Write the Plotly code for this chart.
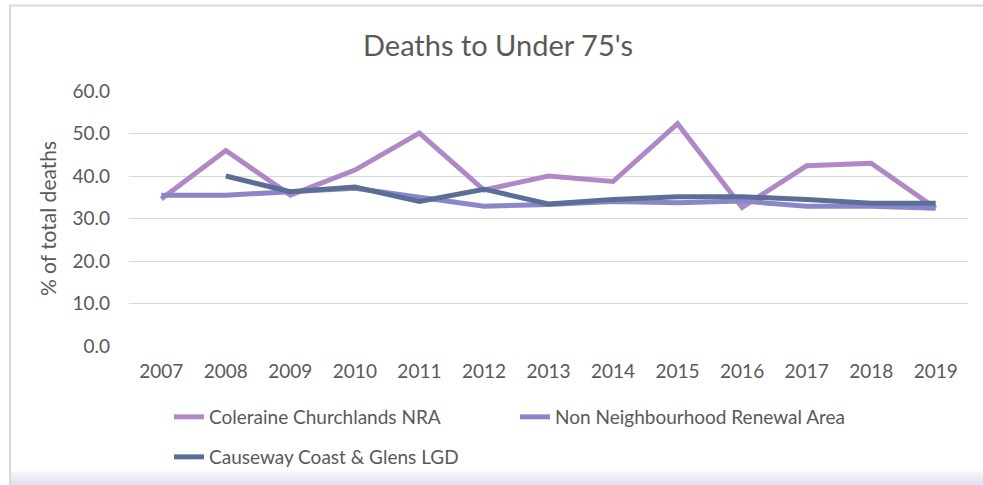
import plotly.graph_objects as go

years = ["2007", "2008", "2009", "2010", "2011", "2012", "2013",
         "2014", "2015", "2016", "2017", "2018", "2019"]
coleraine = [34.6, 46.0, 35.5, 41.4, 50.1, 36.7, 40.0, 38.7, 52.3, 32.6, 42.4, 43.0, 32.4]
nnra = [35.5, 35.5, 36.3, 37.1, 35.0, 32.9, 33.3, 34.0, 33.7, 34.1, 32.9, 32.9, 32.4]
causeway = [None, 40.0, 36.3, 37.4, 34.0, 36.9, 33.4, 34.5, 35.1, 35.1, 34.5, 33.6, 33.6]
y_ticks = [0, 10, 20, 30, 40, 50, 60]

FONT = "Lato"
GREY = "#595959"

fig = go.Figure()
fig.add_trace(go.Scatter(x=years, y=coleraine, mode="lines", name="Coleraine Churchlands NRA",
                         line=dict(color="#b088c8", width=5), legend="legend"))
fig.add_trace(go.Scatter(x=years, y=nnra, mode="lines", name="Non Neighbourhood Renewal Area",
                         line=dict(color="#8b86c9", width=5), legend="legend"))
fig.add_trace(go.Scatter(x=years, y=causeway, mode="lines", name="Causeway Coast & Glens LGD",
                         line=dict(color="#5b6e95", width=5), legend="legend2"))

L, R, T, B = 129, 15, 91, 139
W, H = 983, 485
pw, ph = W - L - R, H - T - B
def px(x):
    return (x - L) / pw
def py(y):
    return (H - B - y) / ph

shapes = [
    dict(type="line", xref="paper", yref="paper", x0=px(9), x1=px(983), y0=py(5.5), y1=py(5.5),
         line=dict(color="#d9d9d9", width=2), layer="below"),
    dict(type="line", xref="paper", yref="paper", x0=px(10), x1=px(10), y0=py(5), y1=py(485),
         line=dict(color="#d9d9d9", width=2), layer="below"),
]
# lavender fade at bottom
steps = 8
for i in range(steps):
    y0 = 470 + i * 15 / steps
    shapes.append(dict(type="rect", xref="paper", yref="paper", x0=px(11), x1=px(983),
                       y0=py(y0), y1=py(485), line=dict(width=0),
                       fillcolor="rgba(215,195,235,0.09)", layer="below"))

fig.update_layout(
    width=W, height=H,
    margin=dict(l=L, r=R, t=T, b=B, autoexpand=False),
    paper_bgcolor="white", plot_bgcolor="white",
    font=dict(family=FONT, color=GREY, size=19),
    title=dict(text="Deaths to Under 75's", x=498 / W, xanchor="center", xref="container",
               y=1 - 46 / H, yanchor="middle", yref="container",
               font=dict(family=FONT, size=29, color=GREY)),
    xaxis=dict(type="category", range=[-0.5, 12.5], showgrid=False, zeroline=False,
               showline=False, ticks="", tickfont=dict(size=19, color=GREY), ticklabelstandoff=12),
    yaxis=dict(range=[0, 60], tickvals=y_ticks, tickformat=".1f", showgrid=True,
               gridcolor="#d9d9d9", gridwidth=1.3, zeroline=False, showline=False,
               tickfont=dict(size=19, color=GREY), ticklabelstandoff=18,
               title=dict(text="% of total deaths", font=dict(size=21, color=GREY), standoff=10)),
    legend=dict(orientation="h", x=px(169), xanchor="left", y=py(398), yanchor="top",
                entrywidth=301, entrywidthmode="pixels", font=dict(size=19, color=GREY),
                bgcolor="rgba(0,0,0,0)"),
    legend2=dict(orientation="h", x=px(169), xanchor="left", y=py(438), yanchor="top",
                 font=dict(size=19, color=GREY), bgcolor="rgba(0,0,0,0)"),
    shapes=shapes,
)

fig.write_html("out.html", config={"displayModeBar": False},
               post_script="document.body.style.margin='0';document.body.style.overflow='hidden';")
